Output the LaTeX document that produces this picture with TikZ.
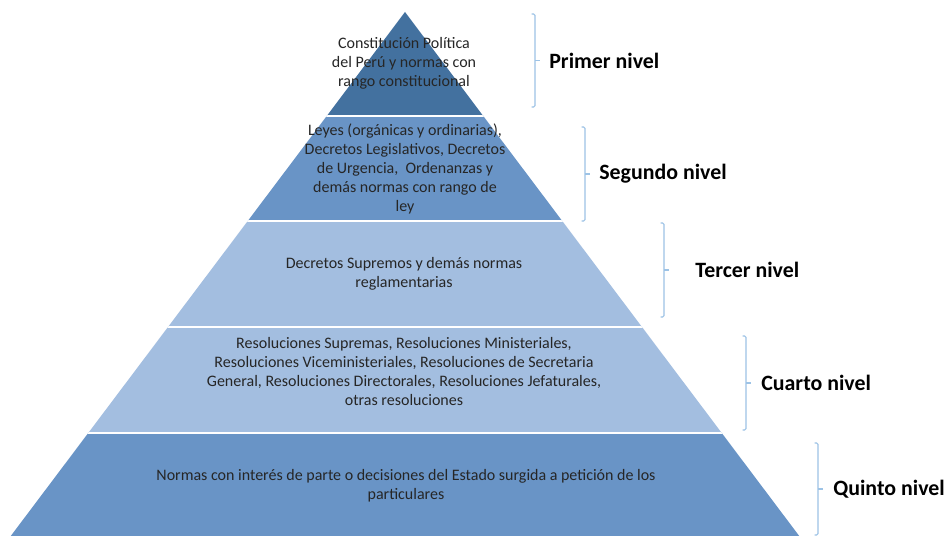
\documentclass[tikz,border=0pt]{standalone}
\usepackage{fontspec}
\setmainfont{Carlito}
\definecolor{azulA}{HTML}{43719F}
\definecolor{azulB}{HTML}{6994C6}
\definecolor{azulC}{HTML}{A3BEE0}
\definecolor{llave}{HTML}{9DC3E6}
\definecolor{texto}{HTML}{262626}
\begin{document}
\begin{tikzpicture}[
  capa/.style={text=texto, align=center, font=\fontsize{9.1}{10.8}\selectfont},
  nivel/.style={anchor=west, inner xsep=0pt, font=\fontsize{12.45}{15}\selectfont\bfseries},
  llv/.style={draw=llave, line width=0.6pt, rounded corners=0.8pt}]
\clip (0,0) rectangle (18.98,-10.72);
\fill[white] (0,0) rectangle (18.98,-10.72);
\begin{scope}
  \clip (8.10,-0.24) -- (0.08,-10.9) -- (16.12,-10.9) -- cycle;
  \fill[azulA] (0,-0.2) rectangle (18.98,-2.32);
  \fill[azulB] (0,-2.32) rectangle (18.98,-4.42);
  \fill[azulC] (0,-4.42) rectangle (18.98,-8.66);
  \fill[azulB] (0,-8.66) rectangle (18.98,-10.9);
  \foreach \y in {2.32,4.42,6.54,8.66}
    \draw[white, line width=1.2pt] (0,-\y) -- (18.98,-\y);
\end{scope}
\node[capa] (t1) at (8.08,-1.26) {Constitución Política\\del Perú y normas con\\rango constitucional};
\node[capa] (t2) at (8.10,-3.38) {Leyes (orgánicas y ordinarias),\\Decretos Legislativos, Decretos\\de Urgencia,~ Ordenanzas y\\demás normas con rango de\\ley};
\node[capa] (t3) at (8.08,-5.48) {Decretos Supremos y demás normas\\reglamentarias};
\node[capa] (t4) at (8.08,-7.43) {Resoluciones Supremas, Resoluciones Ministeriales,\\Resoluciones Viceministeriales, Resoluciones de Secretaria\\General, Resoluciones Directorales, Resoluciones Jefaturales,\\otras resoluciones};
\node[capa] (t5) at (8.12,-9.72) {Normas con interés de parte o decisiones del Estado surgida a petición de los\\particulares};
\foreach \x/\a/\b/\lx/\lab [count=\i] in {10.70/0.28/2.14/10.98/Primer nivel, 11.70/2.54/4.42/11.98/Segundo nivel, 13.28/4.46/6.34/13.90/Tercer nivel, 14.92/6.72/8.60/15.22/Cuarto nivel, 16.36/8.86/10.70/16.66/Quinto nivel}{
  \draw[llv] (\x-0.07,-\a) -- (\x,-\a) -- (\x,-\b) -- (\x-0.07,-\b);
  \draw[llv] (\x,{-(\a+\b)/2}) -- (\x+0.1,{-(\a+\b)/2});
  \node[nivel] (lab\i) at (\lx,{-(\a+\b)/2}) {\lab};
}
\end{tikzpicture}
\end{document}
